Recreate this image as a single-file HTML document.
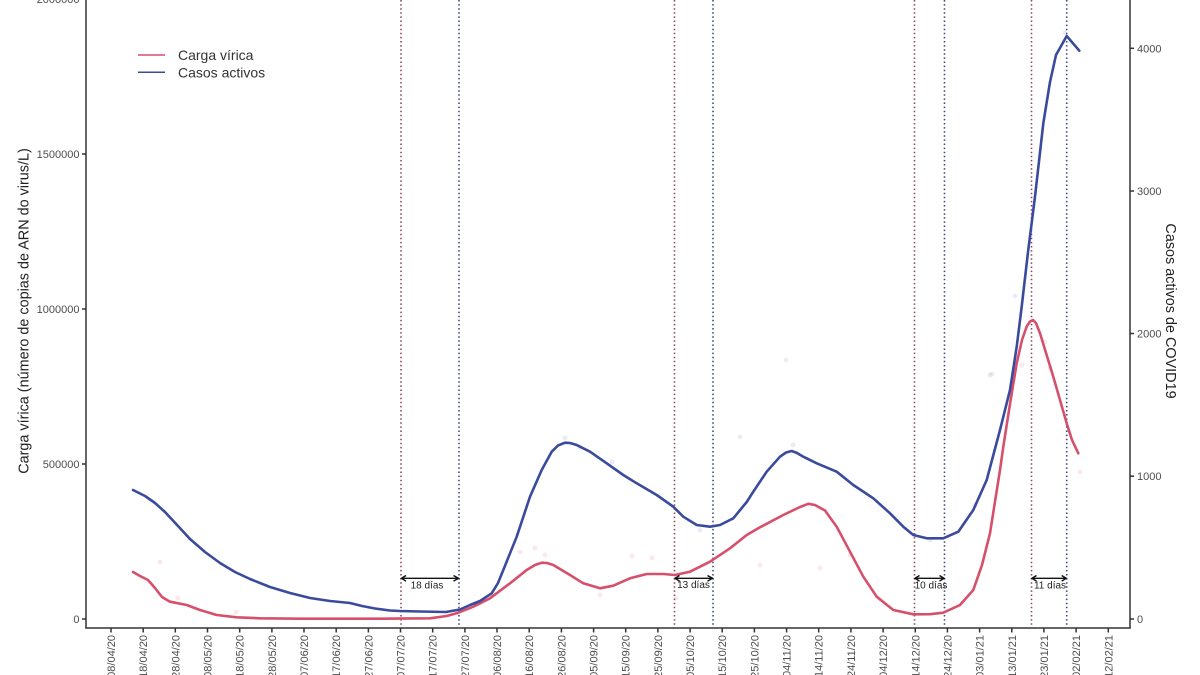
<!DOCTYPE html>
<html>
<head>
<meta charset="utf-8">
<style>
html,body{margin:0;padding:0;background:#fff;}
svg{display:block;}
text{font-family:"Liberation Sans",Arial,sans-serif;}
</style>
</head>
<body>
<svg width="1200" height="675" viewBox="0 0 1200 675" xmlns="http://www.w3.org/2000/svg">
<rect width="1200" height="675" fill="#fff"/>

<!-- faint scatter points -->
<g fill="#d6506b" opacity="0.12">
<circle cx="160" cy="562" r="2.5"/><circle cx="178" cy="598" r="2.5"/><circle cx="236" cy="612" r="2.5"/>
<circle cx="520" cy="552" r="2.5"/><circle cx="535" cy="548" r="2.5"/><circle cx="545" cy="555" r="2.5"/>
<circle cx="600" cy="595" r="2.5"/><circle cx="632" cy="556" r="2.5"/><circle cx="652" cy="558" r="2.5"/>
<circle cx="676" cy="598" r="2.5"/><circle cx="760" cy="565" r="2.5"/><circle cx="820" cy="568" r="2.5"/>
<circle cx="850" cy="555" r="2.5"/><circle cx="1022" cy="365" r="2.5"/><circle cx="1050" cy="368" r="2.5"/>
<circle cx="1045" cy="342" r="2.5"/><circle cx="992" cy="374" r="2.5"/><circle cx="1080" cy="472" r="2.5"/>
</g>
<g fill="#3a4a9c" opacity="0.1">
<circle cx="565" cy="438" r="2.5"/><circle cx="580" cy="447" r="2.5"/><circle cx="612" cy="462" r="2.5"/>
<circle cx="740" cy="437" r="2.5"/><circle cx="786" cy="360" r="2.5"/><circle cx="793" cy="445" r="2.5"/>
<circle cx="990" cy="375" r="2.5"/><circle cx="1015" cy="296" r="2.5"/><circle cx="1065" cy="33" r="2.5"/>
<circle cx="700" cy="530" r="2.5"/><circle cx="930" cy="540" r="2.5"/><circle cx="975" cy="505" r="2.5"/>
</g>

<!-- dotted vertical lines -->
<g stroke-width="1.6" stroke-dasharray="1.5,2.6" fill="none">
<line x1="401" y1="0" x2="401" y2="627" stroke="#8a4a5a"/>
<line x1="459" y1="0" x2="459" y2="627" stroke="#3d4a80"/>
<line x1="674.5" y1="0" x2="674.5" y2="627" stroke="#8a4a5a"/>
<line x1="713" y1="0" x2="713" y2="627" stroke="#3d4a80"/>
<line x1="914.5" y1="0" x2="914.5" y2="627" stroke="#8a4a5a"/>
<line x1="944.5" y1="0" x2="944.5" y2="627" stroke="#3d4a80"/>
<line x1="1031.5" y1="0" x2="1031.5" y2="627" stroke="#8a4a5a"/>
<line x1="1066.7" y1="0" x2="1066.7" y2="627" stroke="#3d4a80"/>
</g>

<!-- Red series: Carga vírica -->
<polyline fill="none" stroke="#d6506b" stroke-width="2.6" stroke-linejoin="round" stroke-linecap="round"
points="133,572 140,576 148,580 155,588 162,597 170,601.7 186.7,605 200,610 216.7,615 236.7,617.3 260,618.3 300,618.7 380,618.7 430,618.3 446.7,616 458.3,612.7 473.3,606.7 490,598.3 510,583.3 526.7,570 535,565 541.7,562.7 547,563 553.3,565 570,575 583.3,583.3 600,588.3 613.3,585.7 630,578.3 646.7,574 663.3,574 675,575 690,571.7 710,561.7 730,548.3 746.7,535 760,527.3 783.3,515 800,507 808.3,503.8 815,505 825,510.5 836.7,526.7 850,551.7 863.3,576.7 876.7,596.7 893.3,610 913.3,614.3 930,614.2 943.3,612.7 960,605 973.3,590 982,565 990,533.3 1000,470 1003.3,446.7 1010,404 1016.7,363.3 1022,340 1026.7,326.5 1030,321.5 1033,320 1036,323 1040,333.3 1053.3,376.7 1066.7,423.3 1072,440 1078.3,453.3"/>

<!-- Blue series: Casos activos -->
<polyline fill="none" stroke="#3a4a9c" stroke-width="2.6" stroke-linejoin="round" stroke-linecap="round"
points="133,490 145,496 155,503 165,512 178,526 190,539 205,552 220,563 235,572 250,579 270,587 290,593 310,598 330,601 350,603 362,606 375,608.5 390,610.5 400,611 420,611.5 446,612 460,609.5 470,605 480,601 491.7,593.3 498,583 503.3,570 516.7,536.7 530,496.7 541.7,470 551.7,451.7 558,445.5 565,442.7 570,443 576.7,445 590,451.7 606.7,463.3 623.3,475 636.7,483.3 656.7,495 673.3,506.7 683.3,516.7 696.7,525 710,526.7 720,525 733.3,518.3 746.7,502 753.3,491.7 766.7,471.7 780,456.7 786,452.5 791.7,451 797,453 803.3,456.7 816.7,463.3 836.7,471.7 853.3,485 873.3,498.3 890,513.3 903.3,526.7 913.3,535 926.7,538.3 943.3,538.3 958.3,531.7 973.3,510 986.7,480 1000,430 1010,390 1016.7,346.7 1021.7,306.7 1028,252 1035,196.7 1043.3,123.3 1050,82 1056,55 1066.7,36 1079.3,50.7"/>

<!-- arrows -->
<g stroke="#111" stroke-width="1.4" fill="none">
<line x1="402" y1="578.3" x2="458" y2="578.3"/>
<path d="M406,575.5 L401.5,578.3 L406,581.1 M453.5,575.5 L458.5,578.3 L453.5,581.1"/>
<line x1="675.5" y1="578.3" x2="712" y2="578.3"/>
<path d="M679.5,575.5 L675,578.3 L679.5,581.1 M707.5,575.5 L712.5,578.3 L707.5,581.1"/>
<line x1="915.5" y1="578.3" x2="943.5" y2="578.3"/>
<path d="M919.5,575.5 L915,578.3 L919.5,581.1 M939.5,575.5 L944,578.3 L939.5,581.1"/>
<line x1="1032.5" y1="578.3" x2="1065.7" y2="578.3"/>
<path d="M1036.5,575.5 L1032,578.3 L1036.5,581.1 M1061.7,575.5 L1066.2,578.3 L1061.7,581.1"/>
</g>
<g font-size="10" fill="#222" text-anchor="middle">
<text x="427" y="588.3">18 días</text>
<text x="693.5" y="588">13 días</text>
<text x="931" y="588.3">10 días</text>
<text x="1050" y="588.3">11 días</text>
</g>

<!-- axes -->
<g stroke="#333" stroke-width="1.5" fill="none">
<line x1="86" y1="0" x2="86" y2="628.5"/>
<line x1="85.3" y1="628" x2="1130.7" y2="628"/>
<line x1="1130" y1="0" x2="1130" y2="628.5"/>
<line x1="82" y1="-1" x2="86" y2="-1"/>
<line x1="82" y1="154" x2="86" y2="154"/>
<line x1="82" y1="309" x2="86" y2="309"/>
<line x1="82" y1="464" x2="86" y2="464"/>
<line x1="82" y1="619" x2="86" y2="619"/>
<line x1="1130" y1="48.3" x2="1134" y2="48.3"/>
<line x1="1130" y1="191" x2="1134" y2="191"/>
<line x1="1130" y1="333.5" x2="1134" y2="333.5"/>
<line x1="1130" y1="476.2" x2="1134" y2="476.2"/>
<line x1="1130" y1="619" x2="1134" y2="619"/>
<path d="M111,628v4.5M143.2,628v4.5M175.3,628v4.5M207.5,628v4.5M239.7,628v4.5M271.9,628v4.5M304,628v4.5M336.2,628v4.5M368.4,628v4.5M400.5,628v4.5M432.7,628v4.5M464.9,628v4.5M497,628v4.5M529.2,628v4.5M561.4,628v4.5M593.6,628v4.5M625.7,628v4.5M657.9,628v4.5M690.1,628v4.5M722.2,628v4.5M754.4,628v4.5M786.6,628v4.5M818.7,628v4.5M850.9,628v4.5M883.1,628v4.5M915.3,628v4.5M947.4,628v4.5M979.6,628v4.5M1011.8,628v4.5M1043.9,628v4.5M1076.1,628v4.5M1108.3,628v4.5"/>
</g>

<!-- left tick labels -->
<g font-size="11" fill="#4d4d4d" text-anchor="end">
<text x="79.5" y="3">2000000</text>
<text x="79.5" y="158">1500000</text>
<text x="79.5" y="313">1000000</text>
<text x="79.5" y="468">500000</text>
<text x="79.5" y="623">0</text>
</g>
<!-- right tick labels -->
<g font-size="11" fill="#4d4d4d" text-anchor="start">
<text x="1137" y="52.3">4000</text>
<text x="1137" y="195">3000</text>
<text x="1137" y="337.5">2000</text>
<text x="1137" y="480.2">1000</text>
<text x="1137" y="623">0</text>
</g>

<!-- x tick labels -->
<g font-size="11" fill="#4d4d4d" text-anchor="end">
<text transform="translate(115,635) rotate(-90)">08/04/20</text>
<text transform="translate(147.2,635) rotate(-90)">18/04/20</text>
<text transform="translate(179.3,635) rotate(-90)">28/04/20</text>
<text transform="translate(211.5,635) rotate(-90)">08/05/20</text>
<text transform="translate(243.7,635) rotate(-90)">18/05/20</text>
<text transform="translate(275.9,635) rotate(-90)">28/05/20</text>
<text transform="translate(308,635) rotate(-90)">07/06/20</text>
<text transform="translate(340.2,635) rotate(-90)">17/06/20</text>
<text transform="translate(372.4,635) rotate(-90)">27/06/20</text>
<text transform="translate(404.5,635) rotate(-90)">07/07/20</text>
<text transform="translate(436.7,635) rotate(-90)">17/07/20</text>
<text transform="translate(468.9,635) rotate(-90)">27/07/20</text>
<text transform="translate(501,635) rotate(-90)">06/08/20</text>
<text transform="translate(533.2,635) rotate(-90)">16/08/20</text>
<text transform="translate(565.4,635) rotate(-90)">26/08/20</text>
<text transform="translate(597.6,635) rotate(-90)">05/09/20</text>
<text transform="translate(629.7,635) rotate(-90)">15/09/20</text>
<text transform="translate(661.9,635) rotate(-90)">25/09/20</text>
<text transform="translate(694.1,635) rotate(-90)">05/10/20</text>
<text transform="translate(726.2,635) rotate(-90)">15/10/20</text>
<text transform="translate(758.4,635) rotate(-90)">25/10/20</text>
<text transform="translate(790.6,635) rotate(-90)">04/11/20</text>
<text transform="translate(822.7,635) rotate(-90)">14/11/20</text>
<text transform="translate(854.9,635) rotate(-90)">24/11/20</text>
<text transform="translate(887.1,635) rotate(-90)">04/12/20</text>
<text transform="translate(919.3,635) rotate(-90)">14/12/20</text>
<text transform="translate(951.4,635) rotate(-90)">24/12/20</text>
<text transform="translate(983.6,635) rotate(-90)">03/01/21</text>
<text transform="translate(1015.8,635) rotate(-90)">13/01/21</text>
<text transform="translate(1047.9,635) rotate(-90)">23/01/21</text>
<text transform="translate(1080.1,635) rotate(-90)">02/02/21</text>
<text transform="translate(1112.3,635) rotate(-90)">12/02/21</text>
</g>

<!-- axis titles -->
<text transform="translate(28.5,311) rotate(-90)" font-size="14.4" fill="#222" text-anchor="middle">Carga vírica (número de copias de ARN do virus/L)</text>
<text transform="translate(1166,311) rotate(90)" font-size="14.4" fill="#222" text-anchor="middle">Casos activos de COVID19</text>

<!-- legend -->
<line x1="138" y1="55" x2="165" y2="55" stroke="#d6506b" stroke-width="1.5"/>
<line x1="138" y1="72.3" x2="165" y2="72.3" stroke="#3a4a9c" stroke-width="1.5"/>
<text x="178" y="60" font-size="14" fill="#333">Carga vírica</text>
<text x="178" y="77.5" font-size="14" fill="#333">Casos activos</text>
</svg>
</body>
</html>
